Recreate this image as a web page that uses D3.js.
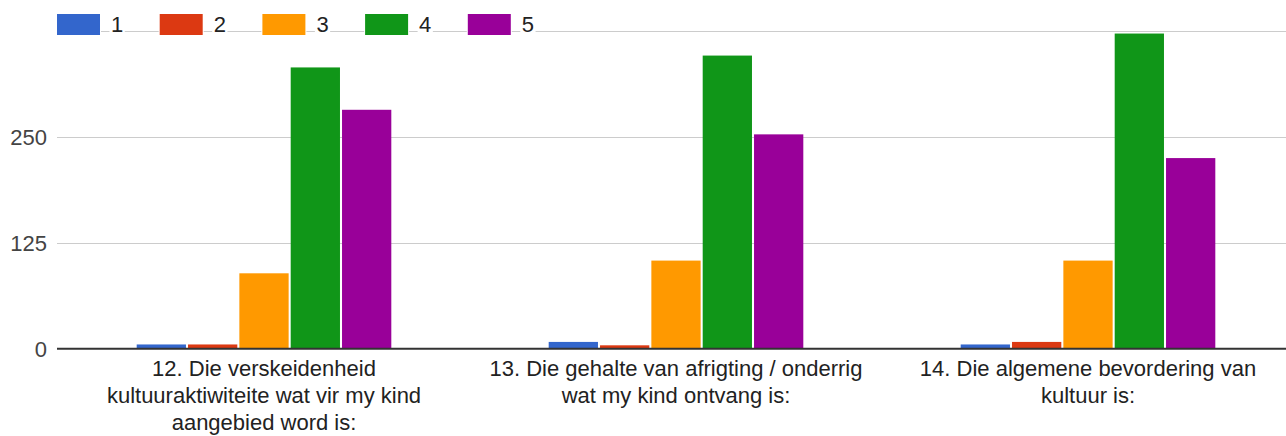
<!DOCTYPE html>
<html>
<head>
<meta charset="utf-8">
<script src="https://cdn.jsdelivr.net/npm/d3@7"></script>
<style>
  html, body { margin: 0; padding: 0; background: #fff; }
  svg { display: block; font-family: "Liberation Sans", Arial, sans-serif; }
</style>
</head>
<body>
<svg id="chart" width="1286" height="436"></svg>
<script>
// ---- data ----
const categories = ["Q12", "Q13", "Q14"];
const categoryLines = [
  ["12. Die verskeidenheid", "kultuuraktiwiteite wat vir my kind", "aangebied word is:"],
  ["13. Die gehalte van afrigting / onderrig", "wat my kind ontvang is:"],
  ["14. Die algemene bevordering van", "kultuur is:"]
];
const seriesNames = ["1", "2", "3", "4", "5"];
const series1 = [5, 8, 5];
const series2 = [5, 4, 8];
const series3 = [89, 104, 104];
const series4 = [332, 346, 372];
const series5 = [282, 253, 225];
const yTicks = [0, 125, 250];
const yGrid = [125, 250, 375];
const colors = ["#3366cc", "#dc3912", "#ff9900", "#109618", "#990099"];

const allSeries = [series1, series2, series3, series4, series5];

const svg = d3.select("#chart");
const W = 1286;

const y = d3.scaleLinear().domain([0, 375]).range([348.7, 31]);
const x0 = d3.scaleBand().domain(categories).range([58, 1294]).paddingInner(0).paddingOuter(0);
const groupW = x0.bandwidth() * 0.618;
const x1 = d3.scaleBand().domain(seriesNames).range([0, groupW]).paddingInner(0.04);

// gridlines
svg.append("g").selectAll("line").data(yGrid).join("line")
  .attr("x1", 57).attr("x2", W)
  .attr("y1", d => Math.round(y(d)) + 0.5).attr("y2", d => Math.round(y(d)) + 0.5)
  .attr("stroke", "#cccccc").attr("stroke-width", 1);

// y labels
svg.append("g").selectAll("text").data(yTicks).join("text")
  .attr("x", 47).attr("y", d => y(d)).attr("dy", "0.36em")
  .attr("text-anchor", "end").attr("font-size", 22).attr("fill", "#444")
  .text(d => d);

// bars
const groups = svg.append("g").selectAll("g").data(categories).join("g")
  .attr("transform", c => `translate(${x0(c) + (x0.bandwidth() - groupW) / 2},0)`);
groups.selectAll("rect").data((c, i) => seriesNames.map((s, j) => ({ s, v: allSeries[j][i], j })))
  .join("rect")
  .attr("x", d => x1(d.s))
  .attr("width", x1.bandwidth())
  .attr("y", d => y(d.v))
  .attr("height", d => y(0) - y(d.v))
  .attr("fill", d => colors[d.j]);

// baseline
svg.append("line").attr("x1", 57).attr("x2", W)
  .attr("y1", y(0)).attr("y2", y(0))
  .attr("stroke", "#333").attr("stroke-width", 2);

// category labels
const lab = svg.append("g").selectAll("text").data(categories).join("text")
  .attr("text-anchor", "middle").attr("font-size", 22).attr("fill", "#222")
  .attr("x", c => x0(c) + x0.bandwidth() / 2).attr("y", 376);
lab.each(function (c, i) {
  const t = d3.select(this);
  categoryLines[i].forEach((ln, k) => {
    t.append("tspan").attr("x", x0(c) + x0.bandwidth() / 2).attr("y", 376 + k * 27).text(ln);
  });
});

// legend
const legend = svg.append("g");
seriesNames.forEach((s, i) => {
  const lx = 57 + i * 102.7;
  legend.append("rect").attr("x", lx - 1).attr("y", 13).attr("width", 45).attr("height", 23)
    .attr("fill", "#fff");
  legend.append("rect").attr("x", lx).attr("y", 14).attr("width", 43).attr("height", 21)
    .attr("fill", colors[i]);
  const txt = legend.append("text").attr("x", lx + 54).attr("y", 32)
    .attr("font-size", 22).attr("fill", "#222").text(s);
  const bb = txt.node().getBBox();
  legend.insert("rect", "text:last-of-type")
    .attr("x", bb.x - 1.5).attr("y", 22).attr("width", bb.width + 3).attr("height", 16)
    .attr("fill", "#fff");
  txt.raise();
});
</script>
</body>
</html>
